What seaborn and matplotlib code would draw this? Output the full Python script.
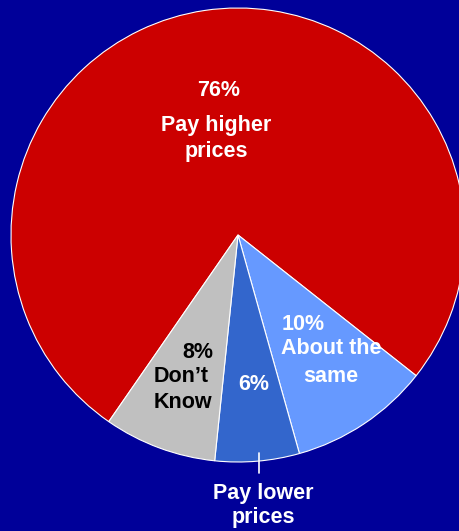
import matplotlib
matplotlib.use("Agg")
import matplotlib.pyplot as plt
import seaborn as sns

# Survey answers and their shares (percent)
categories = ["Pay higher prices", "About the same", "Pay lower prices", "Don\u2019t Know"]
shares = [76, 10, 6, 8]
pct_labels = ["76%", "10%", "6%", "8%"]
colors = ["#CC0000", "#6699FF", "#3366CC", "#C0C0C0"]

sns.set_style("white")
plt.rcParams["font.family"] = ["Liberation Sans", "DejaVu Sans"]

W, H = 459, 531
fig = plt.figure(figsize=(W / 100, H / 100), dpi=100)
bg = "#000099"
fig.patch.set_facecolor(bg)
ax = fig.add_axes([0, 0, 1, 1])
ax.set_facecolor(bg)

cx, cy, r = 238, H - 235, 227
ax.pie(shares, colors=colors, startangle=235.3, counterclock=False,
       center=(cx, cy), radius=r, frame=True,
       wedgeprops=dict(edgecolor="white", linewidth=0.8))
ax.set_xlim(0, W)
ax.set_ylim(0, H)
ax.set_aspect("equal")
ax.axis("off")

bold = dict(fontsize=15.5, fontweight="bold", va="center")


def lines(x, ys, texts, color, ha):
    for y, t in zip(ys, texts):
        ax.text(x, H - y, t, color=color, ha=ha, **bold)


# Pay higher prices
lines(219, [90], [pct_labels[0]], "white", "center")
lines(216, [125, 152], ["Pay higher", "prices"], "white", "center")

# About the same
lines(282, [325], [pct_labels[1]], "white", "left")
lines(331, [349, 376], ["About the", "same"], "white", "center")

# Pay lower prices
lines(254, [385], [pct_labels[2]], "white", "center")
ax.plot([259, 259], [H - 453, H - 473], color="white", linewidth=1.2)
lines(263, [493, 518], ["Pay lower", "prices"], "white", "center")

# Don't Know
lines(213, [353], [pct_labels[3]], "black", "right")
lines(154, [377, 403], ["Don\u2019t", "Know"], "black", "left")

fig.savefig("out.png", dpi=100, facecolor=bg)
